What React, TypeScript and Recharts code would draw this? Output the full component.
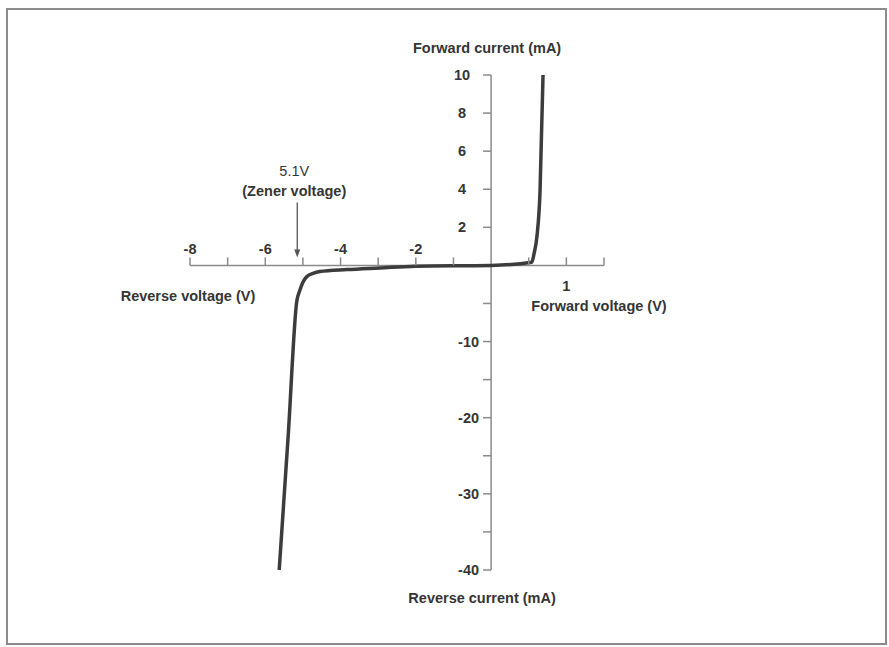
import { LineChart, Line, XAxis, YAxis, ReferenceLine, ReferenceDot } from 'recharts';

// Zener diode I-V curve (volts, milliamps)
const voltage = [-5.63, -5.39, -5.16, -5.09, -5.0, -4.9, -4.73, -4.55, -3.83, -2.95, -2.02, 0, 0.54, 0.57, 0.61, 0.65, 0.69];
const current = [-40, -22.3, -4.6, -3.4, -2.2, -1.5, -1.05, -0.81, -0.55, -0.33, -0.1, 0, 0.16, 0.6, 1.55, 3.86, 10];

// axis ticks
const xTicks = [-8, -7, -6, -5, -4, -3, -2, -1, 0.5, 1, 1.5];
const xTopLabels = [-8, -6, -4, -2];
const xBottomLabels = [1];
const yTicks = [10, 8, 6, 4, 2, -5, -10, -15, -20, -25, -30, -35, -40];
const yLabels = [10, 8, 6, 4, 2, -10, -20, -30, -40];

const zenerVoltage = -5.1;

// the original uses different scales on each side of zero
const toX = (v: number) => (v < 0 ? v : v * 2);
const toY = (i: number) => (i < 0 ? i / 2.5 : i);

const data = voltage.map((v, i) => ({ x: toX(v), y: toY(current[i]) }));

const FONT = '"Liberation Sans", Arial, sans-serif';
const TEXT = '#353535';
const AXIS = '#8a8a8a';

const textProps = { fontFamily: FONT, fontSize: 14.5, fontWeight: 'bold' as const, fill: TEXT };

const xTick = (v: number) => (p: any) => (
  <g>
    <line x1={p.cx} y1={p.cy} x2={p.cx} y2={p.cy - 8} stroke={AXIS} strokeWidth={1.5} />
    {xTopLabels.includes(v) && (
      <text x={p.cx} y={p.cy - 16} textAnchor="middle" dominantBaseline="central" {...textProps}>{v}</text>
    )}
    {xBottomLabels.includes(v) && (
      <text x={p.cx} y={p.cy + 21} textAnchor="middle" dominantBaseline="central" {...textProps}>{v}</text>
    )}
  </g>
);

const yTick = (v: number) => (p: any) => (
  <g>
    <line x1={p.cx} y1={p.cy} x2={p.cx - 8} y2={p.cy} stroke={AXIS} strokeWidth={1.5} />
    {yLabels.includes(v) && (
      v > 0
        ? <text x={p.cx - 29} y={p.cy} textAnchor="middle" dominantBaseline="central" {...textProps}>{v}</text>
        : <text x={p.cx - 12} y={p.cy} textAnchor="end" dominantBaseline="central" {...textProps}>{v}</text>
    )}
  </g>
);

const title = (lines: string[], dx: number, dy: number) => (p: any) => (
  <g>
    {lines.map((t, i) => (
      <text key={t} x={p.cx + dx} y={p.cy + dy + i * 20} textAnchor="middle" dominantBaseline="central" {...textProps}>{t}</text>
    ))}
  </g>
);

const zenerArrow = (p: any) => (
  <g>
    <line x1={p.cx} y1={p.cy - 63} x2={p.cx} y2={p.cy - 14} stroke="#555" strokeWidth={1.3} />
    <path d={`M${p.cx - 3},${p.cy - 16} L${p.cx + 3},${p.cy - 16} L${p.cx},${p.cy - 8} Z`} fill="#555" />
    <text x={p.cx - 3} y={p.cy - 94} textAnchor="middle" dominantBaseline="central" {...textProps} fontWeight="normal">5.1V</text>
    <text x={p.cx - 3} y={p.cy - 74} textAnchor="middle" dominantBaseline="central" {...textProps}>(Zener voltage)</text>
  </g>
);

export default function App() {
  return (
    <div style={{ position: 'absolute', left: 0, top: 0, width: 889, height: 647, background: '#fff' }}>
      <div style={{ position: 'absolute', left: 6, top: 8, width: 877, height: 633, border: '2px solid #8c8c8c' }} />
      <div style={{ position: 'absolute', left: 0, top: 0 }}>
        <LineChart width={889} height={647} data={data} margin={{ top: 75, right: 285, bottom: 77, left: 190 }}>
          <XAxis type="number" dataKey="x" domain={[-8, 3]} allowDataOverflow hide />
          <YAxis type="number" domain={[-16, 10]} allowDataOverflow hide />
          <ReferenceLine segment={[{ x: -8, y: 0 }, { x: 3, y: 0 }]} stroke={AXIS} strokeWidth={1.5} />
          <ReferenceLine segment={[{ x: 0, y: -16 }, { x: 0, y: 10 }]} stroke={AXIS} strokeWidth={1.5} />
          {xTicks.map((v) => (
            <ReferenceDot key={`x${v}`} x={toX(v)} y={0} r={0} shape={xTick(v)} />
          ))}
          {yTicks.map((v) => (
            <ReferenceDot key={`y${v}`} x={0} y={toY(v)} r={0} shape={yTick(v)} />
          ))}
          <ReferenceDot x={0} y={10} r={0} shape={title(['Forward current (mA)'], -4, -27)} />
          <ReferenceDot x={0} y={-16} r={0} shape={title(['Reverse current (mA)'], -9, 28)} />
          <ReferenceDot x={-8} y={0} r={0} shape={title(['Reverse voltage (V)'], -2, 31)} />
          <ReferenceDot x={3} y={0} r={0} shape={title(['Forward voltage (V)'], -5, 41)} />
          <ReferenceDot x={zenerVoltage - 0.05} y={0} r={0} shape={zenerArrow} />
          <Line
            type="monotone"
            dataKey="y"
            stroke="#3c3c3c"
            strokeWidth={3.5}
            dot={false}
            isAnimationActive={false}
          />
        </LineChart>
      </div>
    </div>
  );
}
